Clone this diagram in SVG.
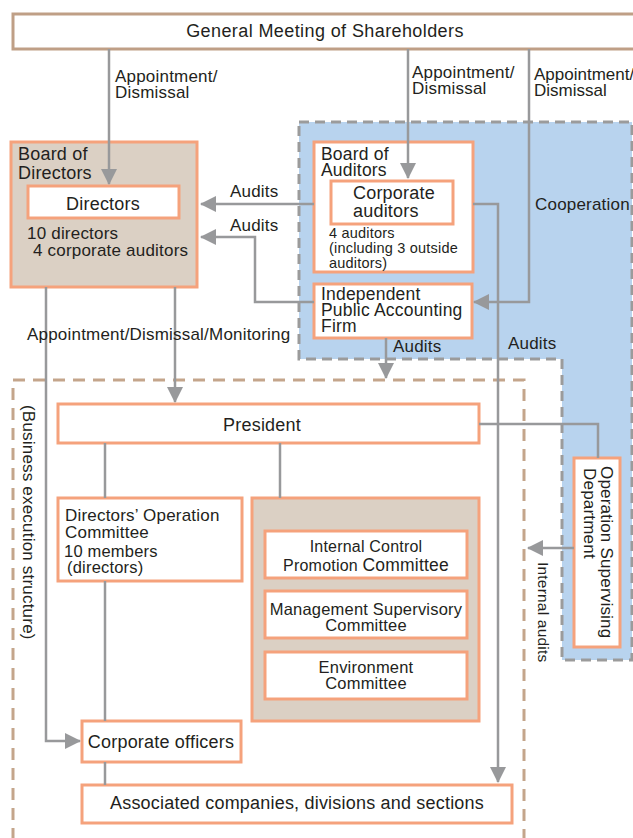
<svg xmlns="http://www.w3.org/2000/svg" width="633" height="838" viewBox="0 0 633 838">
<defs>
<style>
text{font-family:"Liberation Sans",Arial,sans-serif;fill:#231f20;letter-spacing:0.2px}
.m{font-size:18px}
.n{font-size:17.5px}
.l{font-size:17px}
.s{font-size:14.5px}
.c{font-size:16.5px}
.box{fill:#fff;stroke:#f5a27c;stroke-width:3}
.tan{fill:#dbd0c4;stroke:#f5a27c;stroke-width:3}
.cn{fill:none;stroke:#98999b;stroke-width:2.5}
.ar{marker-end:url(#ah)}
</style>
<marker id="ah" markerUnits="userSpaceOnUse" markerWidth="16" markerHeight="16" viewBox="0 0 16 16" refX="15" refY="8" orient="auto">
<path d="M0,0 L16,8 L0,16 z" fill="#98999b"/>
</marker>
</defs>
<rect width="633" height="838" fill="#fff"/>

<g id="audit-region">
<path d="M299,122 H632 V660 H562 V359 H299 Z" fill="#b8d3ee" stroke="#9b9b9b" stroke-width="3" stroke-dasharray="10,6"/>
</g>
<g id="business-execution">
<path d="M13,840 V380 H524 V840" fill="none" stroke="#c4a58b" stroke-width="3" stroke-dasharray="12,8"/>
<text class="l" transform="translate(23,405) rotate(90)">(Business execution structure)</text>
</g>

<g id="shareholders">
<rect x="13" y="14" width="640" height="35" fill="#fff" stroke="#bf9f86" stroke-width="3"/>
<text class="m" x="325" y="37" text-anchor="middle" style="letter-spacing:0.4px">General Meeting of Shareholders</text>
</g>

<g id="board-of-directors">
<rect class="tan" x="11" y="142" width="186" height="145"/>
<text class="m"><tspan x="18" y="160">Board of</tspan><tspan x="18" y="179">Directors</tspan></text>
<text class="l"><tspan x="27" y="239">10 directors</tspan><tspan x="33" y="256">4 corporate auditors</tspan></text>
</g>
<g id="directors">
<rect class="box" x="28" y="186" width="151" height="32"/>
<text class="m" x="103" y="210" text-anchor="middle">Directors</text>
</g>

<g id="board-of-auditors">
<rect class="box" x="314" y="142" width="159" height="130"/>
<text class="n"><tspan x="321" y="160">Board of</tspan><tspan x="321" y="176">Auditors</tspan></text>
<text class="s"><tspan x="329" y="238">4 auditors</tspan><tspan x="329" y="253">(including 3 outside</tspan><tspan x="329" y="268">auditors)</tspan></text>
</g>
<g id="corporate-auditors">
<rect class="box" x="331" y="181" width="122" height="43"/>
<text class="m"><tspan x="353" y="199">Corporate</tspan><tspan x="353" y="217">auditors</tspan></text>
</g>

<g id="accounting-firm">
<rect class="box" x="314" y="284" width="158" height="54"/>
<text class="n"><tspan x="321" y="300">Independent</tspan><tspan x="321" y="316">Public Accounting</tspan><tspan x="321" y="332">Firm</tspan></text>
</g>

<g id="president">
<rect class="box" x="58" y="404" width="421" height="39"/>
<text class="m" x="262" y="431" text-anchor="middle">President</text>
</g>

<g id="directors-operation-committee">
<rect class="box" x="58" y="498" width="184" height="83"/>
<text class="l"><tspan x="65" y="521">Directors’ Operation</tspan><tspan x="65" y="538">Committee</tspan></text>
<text class="c"><tspan x="64" y="557">10 members</tspan><tspan x="67" y="573">(directors)</tspan></text>
</g>

<g id="committees">
<rect class="tan" x="252" y="498" width="227" height="223"/>
</g>
<g id="internal-control-committee">
<rect class="box" x="265" y="531" width="202" height="47"/>
<text text-anchor="middle" style="font-size:16px"><tspan x="366" y="552">Internal Control</tspan><tspan x="366" y="571">Promotion <tspan style="font-size:17.5px">Committee</tspan></tspan></text>
</g>
<g id="management-supervisory-committee">
<rect class="box" x="265" y="591" width="202" height="47"/>
<text class="c" text-anchor="middle"><tspan x="366" y="615">Management Supervisory</tspan><tspan x="366" y="631">Committee</tspan></text>
</g>
<g id="environment-committee">
<rect class="box" x="265" y="652" width="202" height="47"/>
<text class="c" text-anchor="middle"><tspan x="366" y="673">Environment</tspan><tspan x="366" y="689">Committee</tspan></text>
</g>

<g id="corporate-officers">
<rect class="box" x="82" y="721" width="159" height="41"/>
<text class="m" x="161" y="748" text-anchor="middle">Corporate officers</text>
</g>

<g id="associated-companies">
<rect class="box" x="82" y="785" width="430" height="38"/>
<text class="m" x="297" y="809" text-anchor="middle">Associated companies, divisions and sections</text>
</g>

<g id="operation-supervising-department">
<rect class="box" x="574" y="458" width="46" height="189"/>
<text class="l" transform="translate(601,466) rotate(90)"><tspan x="0" y="0">Operation Supervising</tspan><tspan x="2" y="17">Department</tspan></text>
</g>

<g id="connectors">
<path class="cn ar" d="M109,49 V184"/>
<path class="cn ar" d="M408,49 V178"/>
<path class="cn ar" d="M529,49 V302 H474"/>
<path class="cn ar" d="M314,204 H201"/>
<path class="cn ar" d="M314,302 H255 V237 H201"/>
<path class="cn ar" d="M473,204 H498 V782"/>
<path class="cn ar" d="M386,338 V378"/>
<path class="cn ar" d="M46,287 V741 H80"/>
<path class="cn ar" d="M175,287 V402"/>
<path class="cn" d="M479,424 H598 V458"/>
<path class="cn" d="M105,443 V498"/>
<path class="cn" d="M280,443 V498"/>
<path class="cn" d="M105,581 V721"/>
<path class="cn" d="M105,762 V785"/>
<path class="cn ar" d="M574,548 H528"/>
</g>

<g id="labels">
<text class="l"><tspan x="115" y="82">Appointment/</tspan><tspan x="115" y="98">Dismissal</tspan></text>
<text class="l"><tspan x="412" y="78">Appointment/</tspan><tspan x="412" y="94">Dismissal</tspan></text>
<text class="l" style="letter-spacing:0"><tspan x="534" y="80">Appointment/</tspan><tspan x="534" y="96">Dismissal</tspan></text>
<text class="l" x="230" y="197">Audits</text>
<text class="l" x="230" y="231">Audits</text>
<text class="l" x="535" y="210">Cooperation</text>
<text class="l" x="27" y="340">Appointment/Dismissal/Monitoring</text>
<text class="l" x="393" y="352">Audits</text>
<text class="l" x="508" y="349">Audits</text>
<text x="538" y="562" transform="rotate(90,538,562)" style="font-size:15.5px">Internal audits</text>
</g>
</svg>
